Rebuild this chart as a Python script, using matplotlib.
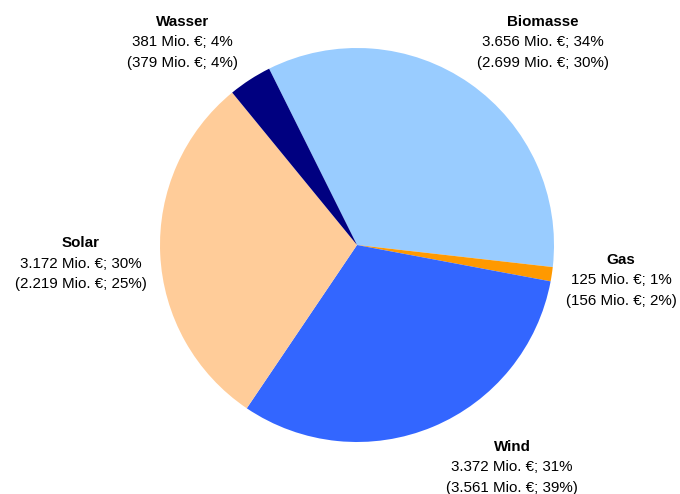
import matplotlib
matplotlib.use('Agg')
import matplotlib.pyplot as plt

plt.rcParams['font.family'] = ['Liberation Sans', 'DejaVu Sans']

# === Data ===
categories = ['Biomasse', 'Gas', 'Wind', 'Solar', 'Wasser']
values = [3656, 125, 3372, 3172, 381]            # Mio. €
prev_values = [2699, 156, 3561, 2219, 379]       # Vorjahr, Mio. €
shares = [34, 1, 31, 30, 4]
prev_shares = [30, 2, 39, 25, 4]
colors = ['#99CCFF', '#FF9900', '#3366FF', '#FFCC99', '#000080']

# label anchor positions (data coords of the pie axes, centre of the name line)
label_pos = {
    'Biomasse': (0.944, 1.132),
    'Gas': (1.340, -0.076),
    'Wind': (0.787, -1.025),
    'Solar': (-1.403, 0.010),
    'Wasser': (-0.885, 1.132),
}


def fmt(v):
    return f"{v:,}".replace(',', '.')


fig = plt.figure(figsize=(6.8, 4.94), dpi=100)
cx, cy, r = 357, 245, 197
ax = fig.add_axes([(cx - r) / 680, (494 - cy - r) / 494, 2 * r / 680, 2 * r / 494])
ax.pie(values, colors=colors, startangle=116.5, counterclock=False,
       wedgeprops={'linewidth': 0})
ax.set_xlim(-1, 1)
ax.set_ylim(-1, 1)
ax.set_aspect('equal')
ax.axis('off')

step = 20.5 / r  # line distance in data units
for name, v, pv, s, ps in zip(categories, values, prev_values, shares, prev_shares):
    x, y = label_pos[name]
    ax.text(x, y, name, ha='center', va='center', fontsize=10.9, fontweight='bold')
    ax.text(x, y - step, f"{fmt(v)} Mio. €; {s}%", ha='center', va='center', fontsize=10.9)
    ax.text(x, y - 2 * step, f"({fmt(pv)} Mio. €; {ps}%)", ha='center', va='center', fontsize=10.9)

fig.savefig('out.png', dpi=100)
